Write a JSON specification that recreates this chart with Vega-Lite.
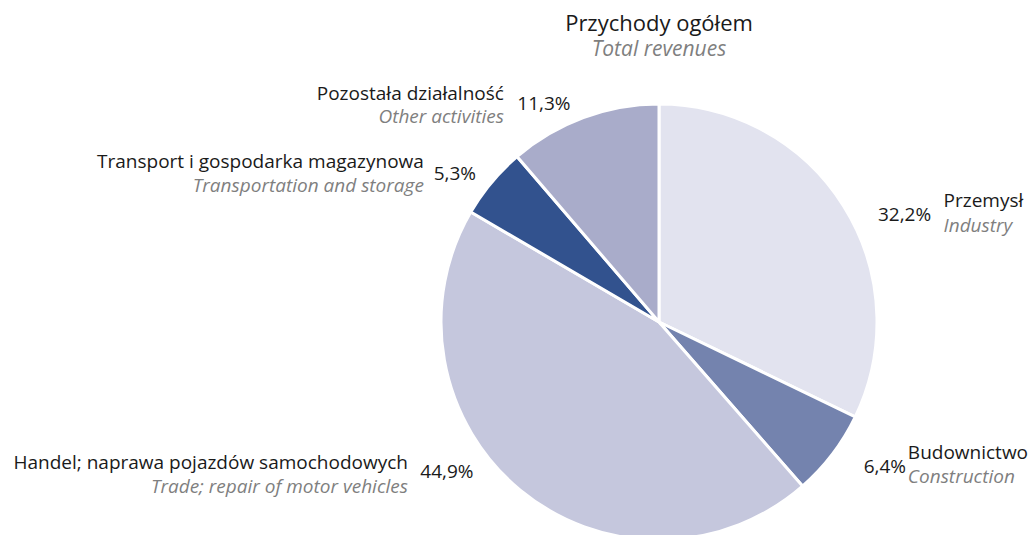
{
  "$schema": "https://vega.github.io/schema/vega-lite/v6.json",
  "autosize": "none",
  "width": 436,
  "height": 436,
  "padding": {"left": 441, "top": 104, "right": 157, "bottom": 0},
  "background": "white",
  "config": {"view": {"stroke": null}},
  "title": {
    "text": "Przychody ogółem",
    "subtitle": "Total revenues",
    "anchor": "middle",
    "frame": "group",
    "font": "Open Sans",
    "fontSize": 22,
    "fontWeight": "normal",
    "color": "#1a1a1a",
    "subtitleFont": "Open Sans",
    "subtitleFontSize": 21,
    "subtitleFontStyle": "italic",
    "subtitleColor": "#7f7f7f",
    "subtitlePadding": 3,
    "offset": -26
  },
  "data": {
    "values": [
      {"idx": 1, "pl": "Przemysł", "en": "Industry", "value": 32.2, "pct": "32,2%"},
      {"idx": 2, "pl": "Budownictwo", "en": "Construction", "value": 6.4, "pct": "6,4%"},
      {"idx": 3, "pl": "Handel; naprawa pojazdów samochodowych", "en": "Trade; repair of motor vehicles", "value": 44.9, "pct": "44,9%"},
      {"idx": 4, "pl": "Transport i gospodarka magazynowa", "en": "Transportation and storage", "value": 5.3, "pct": "5,3%"},
      {"idx": 5, "pl": "Pozostała działalność", "en": "Other activities", "value": 11.3, "pct": "11,3%"}
    ]
  },
  "encoding": {
    "theta": {"field": "value", "type": "quantitative", "stack": true},
    "order": {"field": "idx", "type": "quantitative"}
  },
  "layer": [
    {
      "mark": {"type": "arc", "outerRadius": 218, "stroke": "white", "strokeWidth": 3},
      "encoding": {
        "color": {
          "field": "pl", "type": "nominal", "legend": null,
          "scale": {
            "domain": ["Przemysł", "Budownictwo", "Handel; naprawa pojazdów samochodowych", "Transport i gospodarka magazynowa", "Pozostała działalność"],
            "range": ["#e2e3ef", "#7483ae", "#c5c7dd", "#32528e", "#a9acca"]
          }
        }
      }
    },
    {"mark": {"type": "text", "radius": 245, "dx": 38, "dy": 23, "align": "center", "baseline": "middle", "font": "Open Sans", "fontSize": 19, "color": "#1a1a1a"},
     "encoding": {"text": {"condition": {"test": "datum.idx === 1", "field": "pct", "type": "nominal"}, "value": ""}}},
    {"mark": {"type": "text", "radius": 245, "dx": 77, "dy": 9, "align": "left", "baseline": "middle", "font": "Open Sans", "fontSize": 19, "color": "#1a1a1a"},
     "encoding": {"text": {"condition": {"test": "datum.idx === 1", "field": "pl", "type": "nominal"}, "value": ""}}},
    {"mark": {"type": "text", "radius": 245, "dx": 77, "dy": 34, "align": "left", "baseline": "middle", "font": "Open Sans", "fontSize": 19, "fontStyle": "italic", "color": "#7f7f7f"},
     "encoding": {"text": {"condition": {"test": "datum.idx === 1", "field": "en", "type": "nominal"}, "value": ""}}},

    {"mark": {"type": "text", "radius": 245, "dx": 31, "dy": -4, "align": "center", "baseline": "middle", "font": "Open Sans", "fontSize": 19, "color": "#1a1a1a"},
     "encoding": {"text": {"condition": {"test": "datum.idx === 2", "field": "pct", "type": "nominal"}, "value": ""}}},
    {"mark": {"type": "text", "radius": 245, "dx": 54, "dy": -18, "align": "left", "baseline": "middle", "font": "Open Sans", "fontSize": 19, "color": "#1a1a1a"},
     "encoding": {"text": {"condition": {"test": "datum.idx === 2", "field": "pl", "type": "nominal"}, "value": ""}}},
    {"mark": {"type": "text", "radius": 245, "dx": 54, "dy": 6, "align": "left", "baseline": "middle", "font": "Open Sans", "fontSize": 19, "fontStyle": "italic", "color": "#7f7f7f"},
     "encoding": {"text": {"condition": {"test": "datum.idx === 2", "field": "en", "type": "nominal"}, "value": ""}}},

    {"mark": {"type": "text", "radius": 245, "dx": -56, "dy": -39, "align": "center", "baseline": "middle", "font": "Open Sans", "fontSize": 19, "color": "#1a1a1a"},
     "encoding": {"text": {"condition": {"test": "datum.idx === 3", "field": "pct", "type": "nominal"}, "value": ""}}},
    {"mark": {"type": "text", "radius": 245, "dx": -95, "dy": -48, "align": "right", "baseline": "middle", "font": "Open Sans", "fontSize": 19, "color": "#1a1a1a"},
     "encoding": {"text": {"condition": {"test": "datum.idx === 3", "field": "pl", "type": "nominal"}, "value": ""}}},
    {"mark": {"type": "text", "radius": 245, "dx": -95, "dy": -24, "align": "right", "baseline": "middle", "font": "Open Sans", "fontSize": 19, "fontStyle": "italic", "color": "#7f7f7f"},
     "encoding": {"text": {"condition": {"test": "datum.idx === 3", "field": "en", "type": "nominal"}, "value": ""}}},

    {"mark": {"type": "text", "radius": 245, "dx": -16, "dy": 9, "align": "center", "baseline": "middle", "font": "Open Sans", "fontSize": 19, "color": "#1a1a1a"},
     "encoding": {"text": {"condition": {"test": "datum.idx === 4", "field": "pct", "type": "nominal"}, "value": ""}}},
    {"mark": {"type": "text", "radius": 245, "dx": -47, "dy": -3, "align": "right", "baseline": "middle", "font": "Open Sans", "fontSize": 19, "color": "#1a1a1a"},
     "encoding": {"text": {"condition": {"test": "datum.idx === 4", "field": "pl", "type": "nominal"}, "value": ""}}},
    {"mark": {"type": "text", "radius": 245, "dx": -47, "dy": 21, "align": "right", "baseline": "middle", "font": "Open Sans", "fontSize": 19, "fontStyle": "italic", "color": "#7f7f7f"},
     "encoding": {"text": {"condition": {"test": "datum.idx === 4", "field": "en", "type": "nominal"}, "value": ""}}},

    {"mark": {"type": "text", "radius": 245, "dx": -30, "dy": 12, "align": "center", "baseline": "middle", "font": "Open Sans", "fontSize": 19, "color": "#1a1a1a"},
     "encoding": {"text": {"condition": {"test": "datum.idx === 5", "field": "pct", "type": "nominal"}, "value": ""}}},
    {"mark": {"type": "text", "radius": 245, "dx": -70, "dy": 2, "align": "right", "baseline": "middle", "font": "Open Sans", "fontSize": 19, "color": "#1a1a1a"},
     "encoding": {"text": {"condition": {"test": "datum.idx === 5", "field": "pl", "type": "nominal"}, "value": ""}}},
    {"mark": {"type": "text", "radius": 245, "dx": -70, "dy": 25, "align": "right", "baseline": "middle", "font": "Open Sans", "fontSize": 19, "fontStyle": "italic", "color": "#7f7f7f"},
     "encoding": {"text": {"condition": {"test": "datum.idx === 5", "field": "en", "type": "nominal"}, "value": ""}}}
  ]
}
